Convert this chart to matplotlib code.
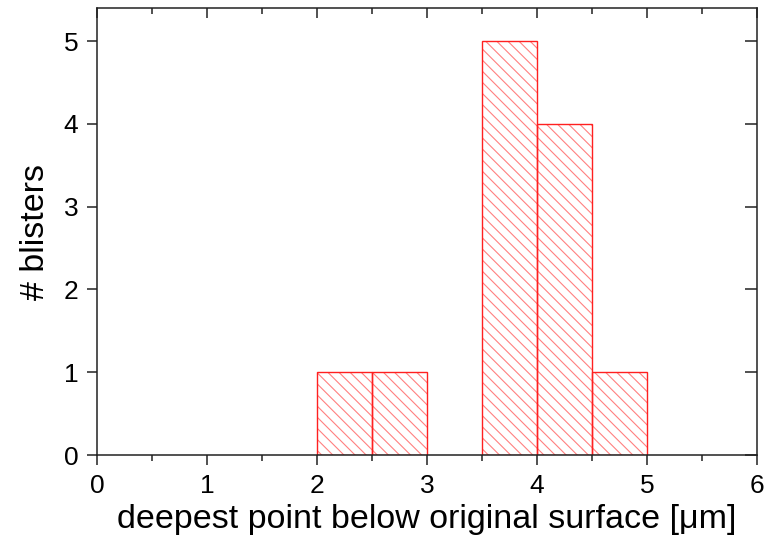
import matplotlib
matplotlib.use("Agg")
import matplotlib.pyplot as plt
from matplotlib.ticker import MultipleLocator

# histogram bins (left edges, width 0.5 um) and counts
bin_left = [2.0, 2.5, 3.5, 4.0, 4.5]
counts = [1, 1, 5, 4, 1]
bin_width = 0.5

x_label = "deepest point below original surface [\u03bcm]"
y_label = "# blisters"

plt.rcParams['font.family'] = ['Liberation Sans', 'DejaVu Sans']
plt.rcParams['hatch.linewidth'] = 0.8

fig = plt.figure(figsize=(7.65, 5.37), dpi=100)
ax = fig.add_axes([0.127, 0.1527, 0.8625, 0.8323])

# hatch in a lighter red, outline in full red
ax.bar(bin_left, counts, width=bin_width, align='edge', color='none',
       edgecolor=(1, 0.5, 0.5), hatch='\\\\\\', linewidth=0)
ax.bar(bin_left, counts, width=bin_width, align='edge', color='none',
       edgecolor='#ff2020', linewidth=1.0)

ax.set_xlim(0, 6)
ax.set_ylim(0, 5.4)
ax.xaxis.set_major_locator(MultipleLocator(1))
ax.xaxis.set_minor_locator(MultipleLocator(0.5))
ax.yaxis.set_major_locator(MultipleLocator(1))

for s in ax.spines.values():
    s.set_linewidth(1.1)
    s.set_color('#222222')

ax.tick_params(axis='x', which='major', direction='out', length=7.5, width=1.1,
               labelsize=19, pad=6.5, color='#222222')
ax.tick_params(axis='x', which='minor', direction='out', length=4, width=1.1,
               color='#222222')
ax.tick_params(axis='y', which='major', direction='out', length=7.5, width=1.1,
               labelsize=19, pad=6, color='#222222')

# inward ticks on top and right, no labels
top = ax.secondary_xaxis('top')
top.xaxis.set_major_locator(MultipleLocator(1))
top.xaxis.set_minor_locator(MultipleLocator(0.5))
top.tick_params(which='major', direction='in', length=7, width=1.1,
                labeltop=False, color='#222222')
top.tick_params(which='minor', direction='in', length=4, width=1.1,
                color='#222222')
top.spines['top'].set_visible(False)
right = ax.secondary_yaxis('right')
right.yaxis.set_major_locator(MultipleLocator(1))
right.tick_params(direction='in', length=8.5, width=1.1, labelright=False,
                  color='#222222')
right.spines['right'].set_visible(False)

ax.set_xlabel(x_label, fontsize=24.5, labelpad=4)
ax.set_ylabel(y_label, fontsize=24.5, labelpad=9)

fig.savefig('out.png', dpi=100)
